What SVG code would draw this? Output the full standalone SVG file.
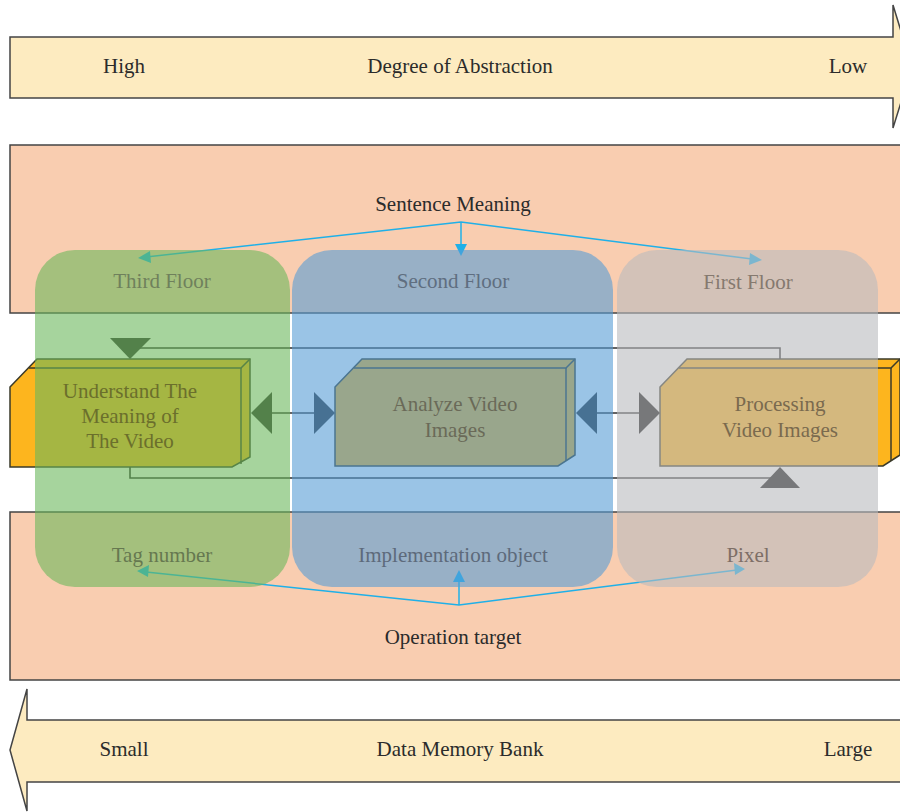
<svg xmlns="http://www.w3.org/2000/svg" width="900" height="812" viewBox="0 0 900 812">
  <defs>
    <style>
      .lbl { font-family: "Liberation Serif", "Times New Roman", serif; font-size: 21px; fill: #2b2b2b; text-anchor: middle; }
      .band { fill: #f9cdb0; stroke: #444; stroke-width: 1.5; }
      .bigarrow { fill: #fdebc0; stroke: #444; stroke-width: 1.5; }
      .box { fill: #fdb51e; stroke: #3a3a2a; stroke-width: 1.5; stroke-linejoin: miter; }
      .edge { fill: none; stroke: #303030; stroke-width: 1.6; }
      .tri { fill: #303030; }
      .tri.dark { fill: #141414; }
      .cyan { fill: none; stroke: #1fb0e8; stroke-width: 1.5; }
      .cyanhead { fill: #1fb0e8; }
      .panel { opacity: 0.6; }
      .plabel { font-family: "Liberation Serif", "Times New Roman", serif; font-size: 21px; text-anchor: middle; }
    </style>
  </defs>

  <rect width="900" height="812" fill="#ffffff"/>

  <!-- abstraction scale arrow (top) -->
  <g id="abstraction-arrow">
    <polygon class="bigarrow" points="10,37 893,37 893,5 912,67 893,128 893,98 10,98"/>
    <text class="lbl" x="124" y="73">High</text>
    <text class="lbl" x="460" y="73">Degree of Abstraction</text>
    <text class="lbl" x="848" y="73">Low</text>
  </g>

  <!-- sentence meaning band -->
  <g id="sentence-band">
    <rect class="band" x="10" y="145" width="910" height="168"/>
    <text class="lbl" x="453" y="211">Sentence Meaning</text>
  </g>

  <!-- operation target band -->
  <g id="operation-band">
    <rect class="band" x="10" y="512" width="910" height="168"/>
    <text class="lbl" x="453" y="644">Operation target</text>
  </g>

  <!-- data memory scale arrow (bottom) -->
  <g id="memory-arrow">
    <polygon class="bigarrow" points="915,720 27,720 27,689 10,750 27,811 27,782 915,782"/>
    <text class="lbl" x="124" y="756">Small</text>
    <text class="lbl" x="460" y="756">Data Memory Bank</text>
    <text class="lbl" x="848" y="756">Large</text>
  </g>

  <!-- 3-D process boxes -->
  <g id="box-understand">
    <polygon class="box" points="10,387 37,359 250,359 250,457 232,467 10,467"/>
    <polyline class="box" style="fill:none" points="29,368 241,368 250,359"/>
    <line class="box" x1="241" y1="368" x2="241" y2="464"/>
  </g>
  <g id="box-analyze">
    <polygon class="box" points="335,387 362,359 575,359 575,455 558,466 335,466"/>
    <polyline class="box" style="fill:none" points="354,368 566,368 575,359"/>
    <line class="box" x1="566" y1="368" x2="566" y2="461"/>
  </g>
  <g id="box-processing">
    <polygon class="box" points="660,387 687,359 900,359 900,455 883,466 660,466"/>
    <polyline class="box" style="fill:none" points="679,368 891,368 900,359"/>
    <line class="box" x1="891" y1="368" x2="891" y2="461"/>
  </g>

  <!-- connectors -->
  <g id="connectors">
    <!-- feedback loop over the top -->
    <polyline class="edge" points="780,359 780,348 130,348 130,352"/>
    <polygon class="tri" points="110,338 151,338 130,359"/>
    <!-- feedback loop underneath -->
    <polyline class="edge" points="130,467 130,478 780,478 780,472"/>
    <polygon class="tri dark" points="760,488 800,488 780,467"/>
    <!-- box 1 <-> box 2 -->
    <line class="edge" x1="262" y1="413" x2="322" y2="413"/>
    <polygon class="tri" points="251,413 272,392 272,434"/>
    <polygon class="tri" points="335,413 314,392 314,434"/>
    <!-- box 2 <-> box 3 -->
    <line class="edge" x1="586" y1="413" x2="648" y2="413"/>
    <polygon class="tri" points="576,413 597,392 597,434"/>
    <polygon class="tri dark" points="660,413 639,392 639,434"/>
    <!-- sentence meaning fan-out -->
    <polyline class="cyan" points="146,257 461,222 752,259"/>
    <line class="cyan" x1="461" y1="222" x2="461" y2="246"/>
    <polygon class="cyanhead" points="138,258 150,251 151,263"/>
    <polygon class="cyanhead" points="461,256 455,244 467,244"/>
    <polygon class="cyanhead" points="762,260 750,253 749,265"/>
    <!-- operation target fan-out -->
    <polyline class="cyan" points="146,572 459,605 737,570"/>
    <line class="cyan" x1="459" y1="605" x2="459" y2="580"/>
    <polygon class="cyanhead" points="137,571 149,565 148,577"/>
    <polygon class="cyanhead" points="459,570 453,582 465,582"/>
    <polygon class="cyanhead" points="745,569 734,563 735,575"/>
  </g>

  <!-- translucent floor panels -->
  <g id="third-floor">
    <rect class="panel" x="35" y="250" width="255" height="337" rx="40" ry="40" fill="#6bb75c"/>
    <text class="plabel" x="162" y="288" fill="#6f805c">Third Floor</text>
    <text class="plabel" x="162" y="562" fill="#667850">Tag number</text>
  </g>
  <g id="second-floor">
    <rect class="panel" x="292" y="250" width="321" height="337" rx="40" ry="40" fill="#579dd5"/>
    <text class="plabel" x="453" y="288" fill="#5f6e80">Second Floor</text>
    <text class="plabel" x="453" y="562" fill="#5d6a7b">Implementation object</text>
  </g>
  <g id="first-floor">
    <rect class="panel" x="617" y="250" width="261" height="337" rx="40" ry="40" fill="#b9bbbe"/>
    <text class="plabel" x="748" y="289" fill="#85796f">First Floor</text>
    <text class="plabel" x="748" y="562" fill="#7d6e66">Pixel</text>
  </g>

  <!-- box captions -->
  <g id="box-captions" class="plabel">
    <text x="130" y="398" fill="#6b6f2c">Understand The</text>
    <text x="130" y="423" fill="#6b6f2c">Meaning of</text>
    <text x="130" y="448" fill="#6b6f2c">The Video</text>
    <text x="455" y="411" fill="#6a6a58">Analyze Video</text>
    <text x="455" y="437" fill="#6a6a58">Images</text>
    <text x="780" y="411" fill="#7a6a4e">Processing</text>
    <text x="780" y="437" fill="#7a6a4e">Video Images</text>
  </g>
</svg>
